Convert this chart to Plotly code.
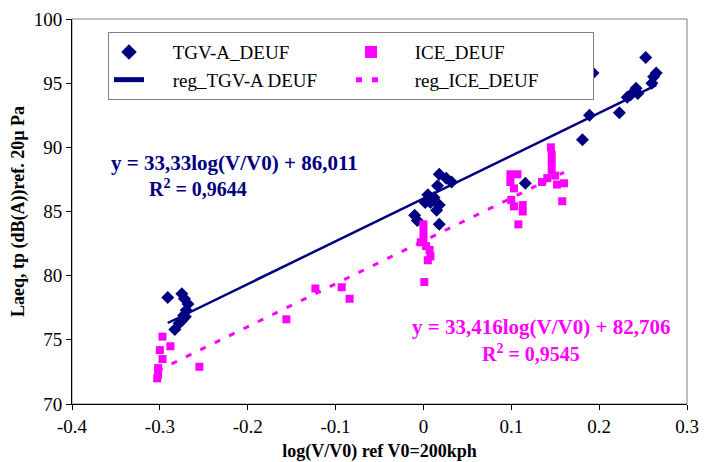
import plotly.graph_objects as go

# ---- data ----
tgv_x = [-0.291, -0.275, -0.272, -0.268, -0.270, -0.273, -0.275, -0.271, -0.283, -0.278,
         0.018, 0.026, 0.032, 0.016, 0.005, 0.012, 0.008, 0.018, 0.015, 0.002, -0.010, -0.007, 0.018,
         0.116,
         0.181, 0.189, 0.193, 0.223, 0.232, 0.236, 0.242, 0.244, 0.253, 0.260, 0.262, 0.265]
tgv_y = [78.3, 78.6, 78.2, 77.8, 77.3, 76.9, 76.5, 76.8, 75.8, 76.3,
         87.9, 87.6, 87.3, 87.0, 86.3, 86.1, 85.7, 85.5, 85.1, 85.7, 84.7, 84.3, 84.0,
         87.2,
         90.6, 92.5, 95.8, 92.7, 93.9, 94.1, 94.6, 94.2, 97.0, 95.0, 95.5, 95.8]

ice_x = [-0.297, -0.300, -0.288, -0.297, -0.302, -0.302, -0.303, -0.255,
         -0.156, -0.123, -0.093, -0.084,
         0.000, 0.000, 0.000, -0.003, 0.003, 0.007, 0.008, 0.005, 0.001,
         0.099, 0.107, 0.099, 0.103, 0.100, 0.103, 0.113, 0.113, 0.108,
         0.145, 0.146, 0.146, 0.146, 0.141, 0.135, 0.150, 0.152, 0.160, 0.158]
ice_y = [75.25, 74.2, 74.5, 73.5, 72.8, 72.3, 72.0, 72.9,
         76.6, 79.0, 79.1, 78.2,
         84.0, 83.4, 82.8, 82.6, 82.3, 82.0, 81.5, 81.2, 79.5,
         87.9, 87.9, 87.3, 86.8, 85.9, 85.4, 85.5, 85.0, 84.0,
         90.0, 89.4, 88.8, 88.2, 87.6, 87.3, 87.8, 87.1, 87.2, 85.8]

# regression coefficients (from chart labels)
tgv_slope, tgv_icpt = 33.33, 86.011
ice_slope, ice_icpt = 33.416, 82.706

x_tick_vals = [-0.4, -0.3, -0.2, -0.1, 0.0, 0.1, 0.2, 0.3]
x_tick_labels = ["-0.4", "-0.3", "-0.2", "-0.1", "0", "0.1", "0.2", "0.3"]
y_tick_vals = [70, 75, 80, 85, 90, 95, 100]

NAVY = "#000080"
MAG = "#FF00FF"
FONT = "Times New Roman, Liberation Serif, Tinos, serif"
PAD = "\u00a0" * 5

tgv_lx = [min(tgv_x), max(tgv_x)]
tgv_ly = [tgv_slope * v + tgv_icpt for v in tgv_lx]
ice_lx = [min(ice_x), max(ice_x)]
ice_ly = [ice_slope * v + ice_icpt for v in ice_lx]

fig = go.Figure()
fig.add_trace(go.Scatter(x=tgv_x, y=tgv_y, mode="markers", name=PAD + "TGV-A_DEUF",
                         marker=dict(symbol="diamond", size=10, color=NAVY)))
fig.add_trace(go.Scatter(x=ice_x, y=ice_y, mode="markers", name=PAD + "ICE_DEUF",
                         marker=dict(symbol="square", size=8, color=MAG)))
fig.add_trace(go.Scatter(x=tgv_lx, y=tgv_ly, mode="lines", name=PAD + "reg_TGV-A DEUF",
                         line=dict(color=NAVY, width=2.5)))
fig.add_trace(go.Scatter(x=ice_lx, y=ice_ly, mode="lines", name=PAD + "reg_ICE_DEUF",
                         line=dict(color=MAG, width=3, dash="6px,10px")))

fig.add_annotation(x=-0.215, y=88.8, text="<b>y = 33,33log(V/V0) + 86,011</b>", showarrow=False,
                   font=dict(family=FONT, size=21, color=NAVY))
fig.add_annotation(x=-0.257, y=86.8, text="<b>R<sup>2</sup> = 0,9644</b>", showarrow=False,
                   font=dict(family=FONT, size=20, color=NAVY))
fig.add_annotation(x=0.134, y=76.0, text="<b>y = 33,416log(V/V0) + 82,706</b>", showarrow=False,
                   font=dict(family=FONT, size=21, color=MAG))
fig.add_annotation(x=0.123, y=73.95, text="<b>R<sup>2</sup> = 0,9545</b>", showarrow=False,
                   font=dict(family=FONT, size=20, color=MAG))

# plot frame
fig.add_shape(type="rect", xref="paper", yref="paper", x0=0, y0=0, x1=1, y1=1,
              line=dict(color="#808080", width=1), layer="below")

fig.update_layout(
    width=700, height=454,
    margin=dict(l=64, r=21, t=11, b=58, autoexpand=False),
    paper_bgcolor="white", plot_bgcolor="white",
    font=dict(family=FONT, size=18, color="black"),
    showlegend=True,
    legend=dict(orientation="h", x=0.0585, y=0.966, xanchor="left", yanchor="top",
                bgcolor="white", bordercolor="#808080", borderwidth=1,
                entrywidth=197, font=dict(family=FONT, size=19, color="black"),
                itemsizing="constant"),
    xaxis=dict(range=[-0.4, 0.3], tickvals=x_tick_vals, ticktext=x_tick_labels,
               automargin=False,
               showgrid=False, zeroline=False, showline=True, linecolor="black", linewidth=1,
               ticks="outside", ticklen=5, tickcolor="black",
               tickfont=dict(family="Times New Roman", size=19, color="black"),
               title=dict(text="<b>log(V/V0) ref V0=200kph</b>", standoff=10,
                          font=dict(family=FONT, size=18))),
    yaxis=dict(range=[70, 100], tickvals=y_tick_vals,
               automargin=False,
               showgrid=False, zeroline=False, showline=True, linecolor="black", linewidth=1,
               ticks="outside", ticklen=5, tickcolor="black",
               tickfont=dict(family="Times New Roman", size=19, color="black"),
               title=dict(text="<b>Laeq, tp (dB(A))ref. 20µ Pa</b>", standoff=4,
                          font=dict(family=FONT, size=18))),
)

fig.write_html("out.html")
